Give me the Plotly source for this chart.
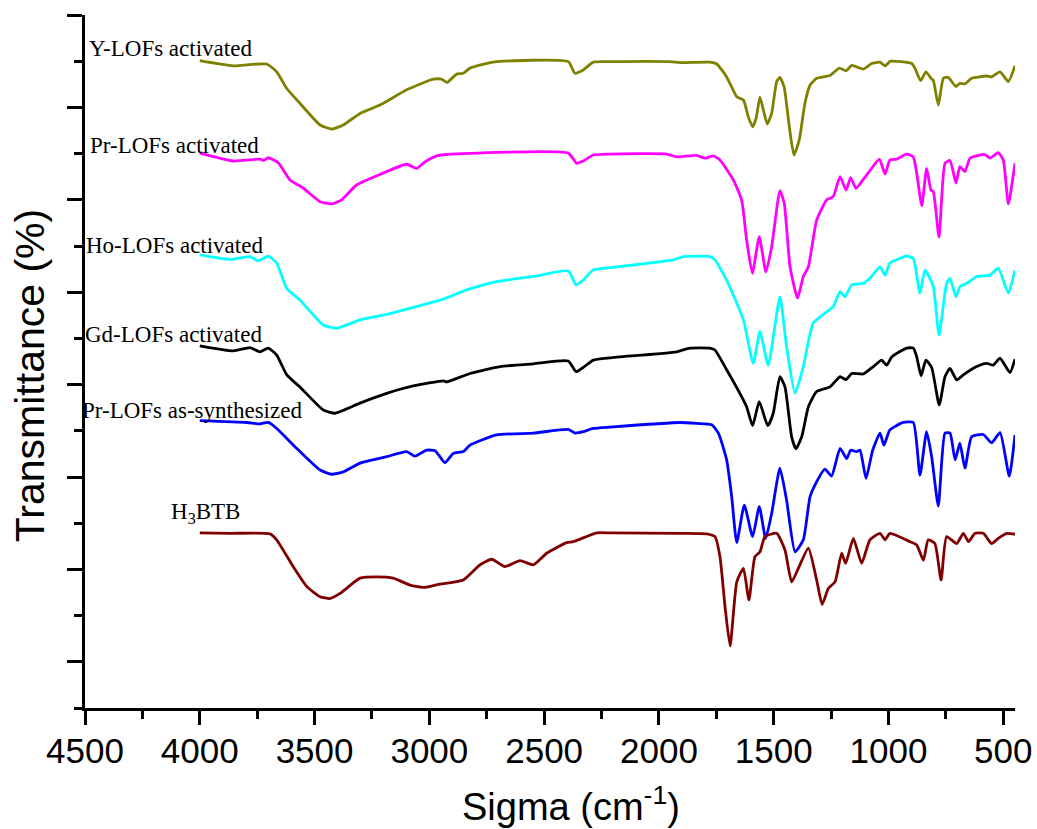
import plotly.graph_objects as go

# ---------------- data (wavenumber in cm-1, offset transmittance in arbitrary units) ----------------
y_lofs_wn = [4000, 3854, 3709, 3665, 3621, 3564, 3476, 3425, 3375, 3302, 3215, 3099, 2983, 2946, 2924, 2881,
             2852, 2823, 2721, 2395, 2366, 2330, 2286, 2213, 1952, 1908, 1778, 1748, 1705, 1661, 1632, 1611,
             1592, 1577, 1560, 1545, 1528, 1509, 1487, 1473, 1455, 1432, 1412, 1389, 1364, 1342, 1313, 1255,
             1214, 1185, 1160, 1110, 1073, 1037, 1015, 991, 899, 885, 860, 837, 812, 805, 783, 761, 740, 706,
             689, 667, 638, 572, 551, 514, 478, 449]
y_lofs_t = [140.1, 139.0, 139.4, 137.7, 134.1, 130.9, 126.2, 125.3, 126.2, 128.7, 130.5, 133.8, 136.1, 136.1, 135.4, 137.2,
            137.4, 138.5, 139.8, 139.9, 137.4, 138.1, 139.8, 139.9, 139.9, 139.7, 139.8, 139.4, 136.6, 132.3, 131.6, 128.0,
            125.8, 127.6, 132.2, 129.4, 126.4, 128.7, 135.6, 136.5, 134.5, 125.8, 119.7, 122.9, 130.9, 134.8, 136.3, 136.9,
            138.5, 137.9, 139.1, 138.3, 139.5, 139.8, 139.0, 140.0, 139.5, 138.5, 135.8, 137.7, 136.1, 135.9, 130.5, 136.3, 136.5, 134.5,
            135.2, 135.1, 136.3, 136.8, 136.6, 137.7, 135.6, 139.0]

pr_act_wn = [4000, 3854, 3738, 3723, 3702, 3658, 3607, 3549, 3476, 3425, 3382, 3317, 3215, 3099, 3055, 3019,
             2968, 2924, 2395, 2358, 2330, 2286, 2213, 1966, 1923, 1836, 1799, 1763, 1734, 1676, 1640, 1618,
             1593, 1563, 1534, 1509, 1473, 1454, 1429, 1396, 1371, 1349, 1313, 1269, 1241, 1211, 1185, 1165,
             1142, 1110, 1084, 1040, 1015, 994, 964, 921, 892, 877, 855, 834, 815, 805, 780, 754, 732, 706,
             689, 667, 645, 580, 558, 522, 500, 478, 449]
pr_act_t = [120.1, 118.4, 118.8, 118.5, 119.1, 118.0, 114.3, 112.5, 109.6, 109.1, 110.0, 113.2, 115.5, 117.7, 116.8, 118.2,
            119.5, 119.8, 120.1, 117.9, 118.4, 119.7, 119.9, 119.9, 119.3, 119.6, 119.0, 119.5, 118.6, 114.3, 110.0, 101.3,
            94.1, 102.0, 94.4, 99.8, 112.0, 109.2, 95.5, 88.7, 93.4, 95.5, 105.6, 110.0, 110.7, 115.0, 112.1, 114.8,
            112.5, 114.4, 116.1, 118.8, 115.6, 118.6, 118.8, 119.9, 119.3, 115.7, 108.7, 116.8, 112.1, 111.8, 101.9, 117.9, 118.5, 113.6,
            117.2, 116.1, 119.0, 119.8, 119.0, 120.2, 118.6, 109.1, 117.9]

ho_act_wn = [4000, 3868, 3781, 3745, 3702, 3665, 3621, 3564, 3462, 3404, 3302, 3186, 3070, 2939, 2837, 2707,
             2547, 2395, 2361, 2330, 2286, 2213, 1937, 1894, 1778, 1756, 1705, 1632, 1589, 1560, 1524, 1473,
             1444, 1407, 1371, 1328, 1241, 1211, 1190, 1160, 1110, 1081, 1037, 1015, 994, 921, 892, 863,
             841, 805, 780, 747, 732, 706, 689, 660, 616, 558, 522, 478, 449]
ho_act_t = [98.1, 97.1, 97.7, 96.8, 97.8, 96.3, 90.8, 88.3, 82.9, 82.2, 84.0, 85.2, 86.7, 88.5, 90.5, 92.3,
            93.4, 94.6, 91.6, 92.6, 94.8, 95.3, 97.0, 97.7, 97.7, 97.0, 92.6, 84.0, 74.6, 81.5, 74.2, 89.0,
            78.2, 68.1, 73.9, 83.3, 86.9, 90.1, 89.0, 91.6, 91.9, 93.0, 95.5, 93.7, 96.3, 97.8, 97.3, 89.8,
            94.8, 91.2, 80.7, 91.9, 93.0, 89.0, 91.2, 91.9, 93.4, 93.7, 95.2, 89.8, 94.8]

gd_act_wn = [4000, 3854, 3781, 3738, 3702, 3665, 3621, 3564, 3462, 3411, 3302, 3186, 3070, 2939, 2924, 2823,
             2692, 2547, 2395, 2361, 2330, 2286, 2213, 1923, 1865, 1778, 1756, 1705, 1640, 1618, 1592, 1563,
             1526, 1502, 1473, 1451, 1422, 1403, 1378, 1349, 1313, 1255, 1211, 1185, 1160, 1110, 1066, 1030,
             1008, 986, 921, 892, 877, 858, 837, 812, 779, 754, 732, 703, 674, 616, 572, 544, 514, 471, 449]
gd_act_t = [78.4, 77.3, 78.0, 77.1, 77.9, 76.4, 72.1, 69.5, 64.5, 63.8, 66.0, 68.1, 69.7, 70.8, 70.6, 72.4,
            73.9, 74.5, 75.1, 72.8, 73.7, 75.3, 75.8, 77.1, 77.9, 77.9, 77.5, 73.2, 67.4, 65.2, 61.1, 66.3,
            61.1, 63.8, 71.7, 69.5, 58.7, 56.1, 58.7, 65.2, 68.5, 69.5, 71.7, 71.1, 72.4, 72.3, 73.9, 75.3,
            74.2, 76.0, 77.9, 77.9, 76.0, 71.9, 75.3, 73.7, 65.6, 71.7, 73.5, 71.0, 72.1, 73.9, 74.6, 74.2, 75.7, 72.6, 75.5]

pr_syn_wn = [4000, 3796, 3738, 3702, 3665, 3578, 3476, 3425, 3375, 3302, 3186, 3099, 3063, 3012, 2975, 2932,
             2896, 2852, 2823, 2707, 2547, 2395, 2366, 2330, 2286, 2213, 1908, 1836, 1770, 1741, 1705, 1683,
             1661, 1628, 1592, 1563, 1535, 1509, 1473, 1444, 1407, 1371, 1342, 1320, 1277, 1248, 1211, 1182,
             1165, 1139, 1124, 1098, 1069, 1037, 1020, 994, 936, 892, 863, 834, 812, 783, 754, 732, 710,
             689, 667, 638, 587, 551, 514, 474, 449]
pr_syn_t = [62.2, 61.8, 61.5, 61.8, 60.5, 56.2, 51.5, 50.6, 51.1, 53.0, 54.4, 55.5, 54.5, 55.8, 55.7, 53.1,
            55.1, 55.5, 56.9, 59.1, 59.5, 60.3, 59.5, 59.8, 60.5, 60.8, 61.8, 61.6, 61.3, 59.5, 53.7, 45.7,
            35.8, 43.9, 37.1, 43.6, 36.7, 42.1, 51.9, 45.0, 33.8, 36.4, 45.7, 48.3, 51.7, 50.2, 56.2, 54.0,
            55.8, 55.5, 55.8, 49.7, 55.8, 59.5, 56.9, 60.2, 61.8, 61.8, 50.4, 59.8, 54.4, 43.7, 59.5, 59.5, 53.7,
            57.3, 51.9, 58.7, 59.2, 57.4, 59.6, 50.2, 59.1]

h3btb_wn = [4000, 3868, 3694, 3665, 3593, 3534, 3476, 3433, 3389, 3302, 3229, 3157, 3084, 3019, 2954, 2852,
            2779, 2728, 2671, 2605, 2547, 2489, 2402, 2373, 2271, 2213, 1908, 1792, 1756, 1734, 1712, 1690,
            1661, 1632, 1608, 1582, 1560, 1538, 1487, 1451, 1422, 1393, 1349, 1313, 1289, 1262, 1233, 1204,
            1187, 1153, 1117, 1081, 1037, 1015, 994, 906, 877, 848, 827, 798, 771, 747, 703, 674, 652,
            623, 587, 551, 522, 485, 449]
h3btb_t = [37.9, 37.8, 37.7, 36.4, 30.6, 26.3, 24.1, 23.7, 24.8, 28.1, 28.4, 28.1, 26.6, 26.1, 26.8, 27.7,
           31.0, 32.2, 30.6, 31.9, 31.0, 33.5, 35.8, 36.0, 37.9, 37.9, 37.8, 37.7, 37.1, 32.7, 21.9, 13.4,
           27.3, 30.2, 23.4, 32.7, 33.8, 37.1, 37.8, 34.2, 27.3, 30.2, 34.6, 27.7, 22.4, 25.9, 27.3, 33.5,
           31.3, 36.7, 31.3, 36.4, 37.8, 36.4, 37.8, 36.0, 35.3, 32.0, 36.4, 35.6, 27.7, 37.1, 35.6, 37.8, 36.0,
           37.8, 37.8, 35.6, 36.7, 37.8, 37.6]

series = [
    ("Y-LOFs activated", y_lofs_wn, y_lofs_t, "#808000"),
    ("Pr-LOFs activated", pr_act_wn, pr_act_t, "#FF00FF"),
    ("Ho-LOFs activated", ho_act_wn, ho_act_t, "#00FFFF"),
    ("Gd-LOFs activated", gd_act_wn, gd_act_t, "#000000"),
    ("Pr-LOFs as-synthesized", pr_syn_wn, pr_syn_t, "#0000FF"),
    ("H<sub>3</sub>BTB", h3btb_wn, h3btb_t, "#800000"),
]

x_tickvals = [4500, 4000, 3500, 3000, 2500, 2000, 1500, 1000, 500]

# ---------------- figure ----------------
fig = go.Figure()
for name, wn, t, col in series:
    fig.add_trace(go.Scatter(x=wn, y=t, mode="lines", name=name,
                             line=dict(color=col, width=2.8, shape="spline", smoothing=0.5),
                             showlegend=False))

serif = "Liberation Serif, Times New Roman, serif"
sans = "Liberation Sans, Arial, sans-serif"

labels = [
    ("Y-LOFs activated", 0.0022, 142.7),
    ("Pr-LOFs activated", 0.0033, 121.8),
    ("Ho-LOFs activated", -0.001, 100.1),
    ("Gd-LOFs activated", -0.002, 80.9),
    ("Pr-LOFs as-synthesized", -0.0055, 64.4),
    ("H<sub>3</sub>BTB", 0.0905, 42.3),
]
annotations = []
for txt, x, y in labels:
    annotations.append(dict(text=txt, x=x, y=y, xref="paper", yref="y", xanchor="left", yanchor="middle",
                            showarrow=False, font=dict(family=serif, size=23, color="black")))

annotations.append(dict(text="Sigma (cm<sup>-1</sup>)", x=0.5226, y=-0.138, xref="paper", yref="paper",
                        xanchor="center", yanchor="middle", showarrow=False,
                        font=dict(family=sans, size=38, color="black")))
annotations.append(dict(text="Transmittance (%)", x=-0.059, y=0.479, xref="paper", yref="paper",
                        xanchor="center", yanchor="middle", showarrow=False, textangle=-90,
                        font=dict(family=sans, size=41, color="black")))

fig.update_layout(
    width=1037, height=829,
    margin=dict(l=85, r=22, t=15, b=121, autoexpand=False),
    plot_bgcolor="white", paper_bgcolor="white",
    annotations=annotations,
    xaxis=dict(range=[4500, 449], tickmode="array", tickvals=x_tickvals, automargin=False,
               showline=True, linewidth=3, linecolor="black", mirror=False,
               ticks="outside", ticklen=14, tickwidth=3, tickcolor="black",
               ticklabelstandoff=-4,
               minor=dict(ticks="outside", ticklen=8, tickwidth=3, tickcolor="black", dtick=250, tick0=0),
               showgrid=False, zeroline=False,
               tickfont=dict(family=sans, size=35, color="black")),
    yaxis=dict(range=[0, 150], tick0=10, dtick=20, showticklabels=False, automargin=False,
               showline=True, linewidth=3, linecolor="black",
               ticks="outside", ticklen=15, tickwidth=3, tickcolor="black",
               minor=dict(ticks="outside", ticklen=8, tickwidth=3, tickcolor="black", dtick=10, tick0=0),
               showgrid=False, zeroline=False),
)

fig.write_html("out.html")
